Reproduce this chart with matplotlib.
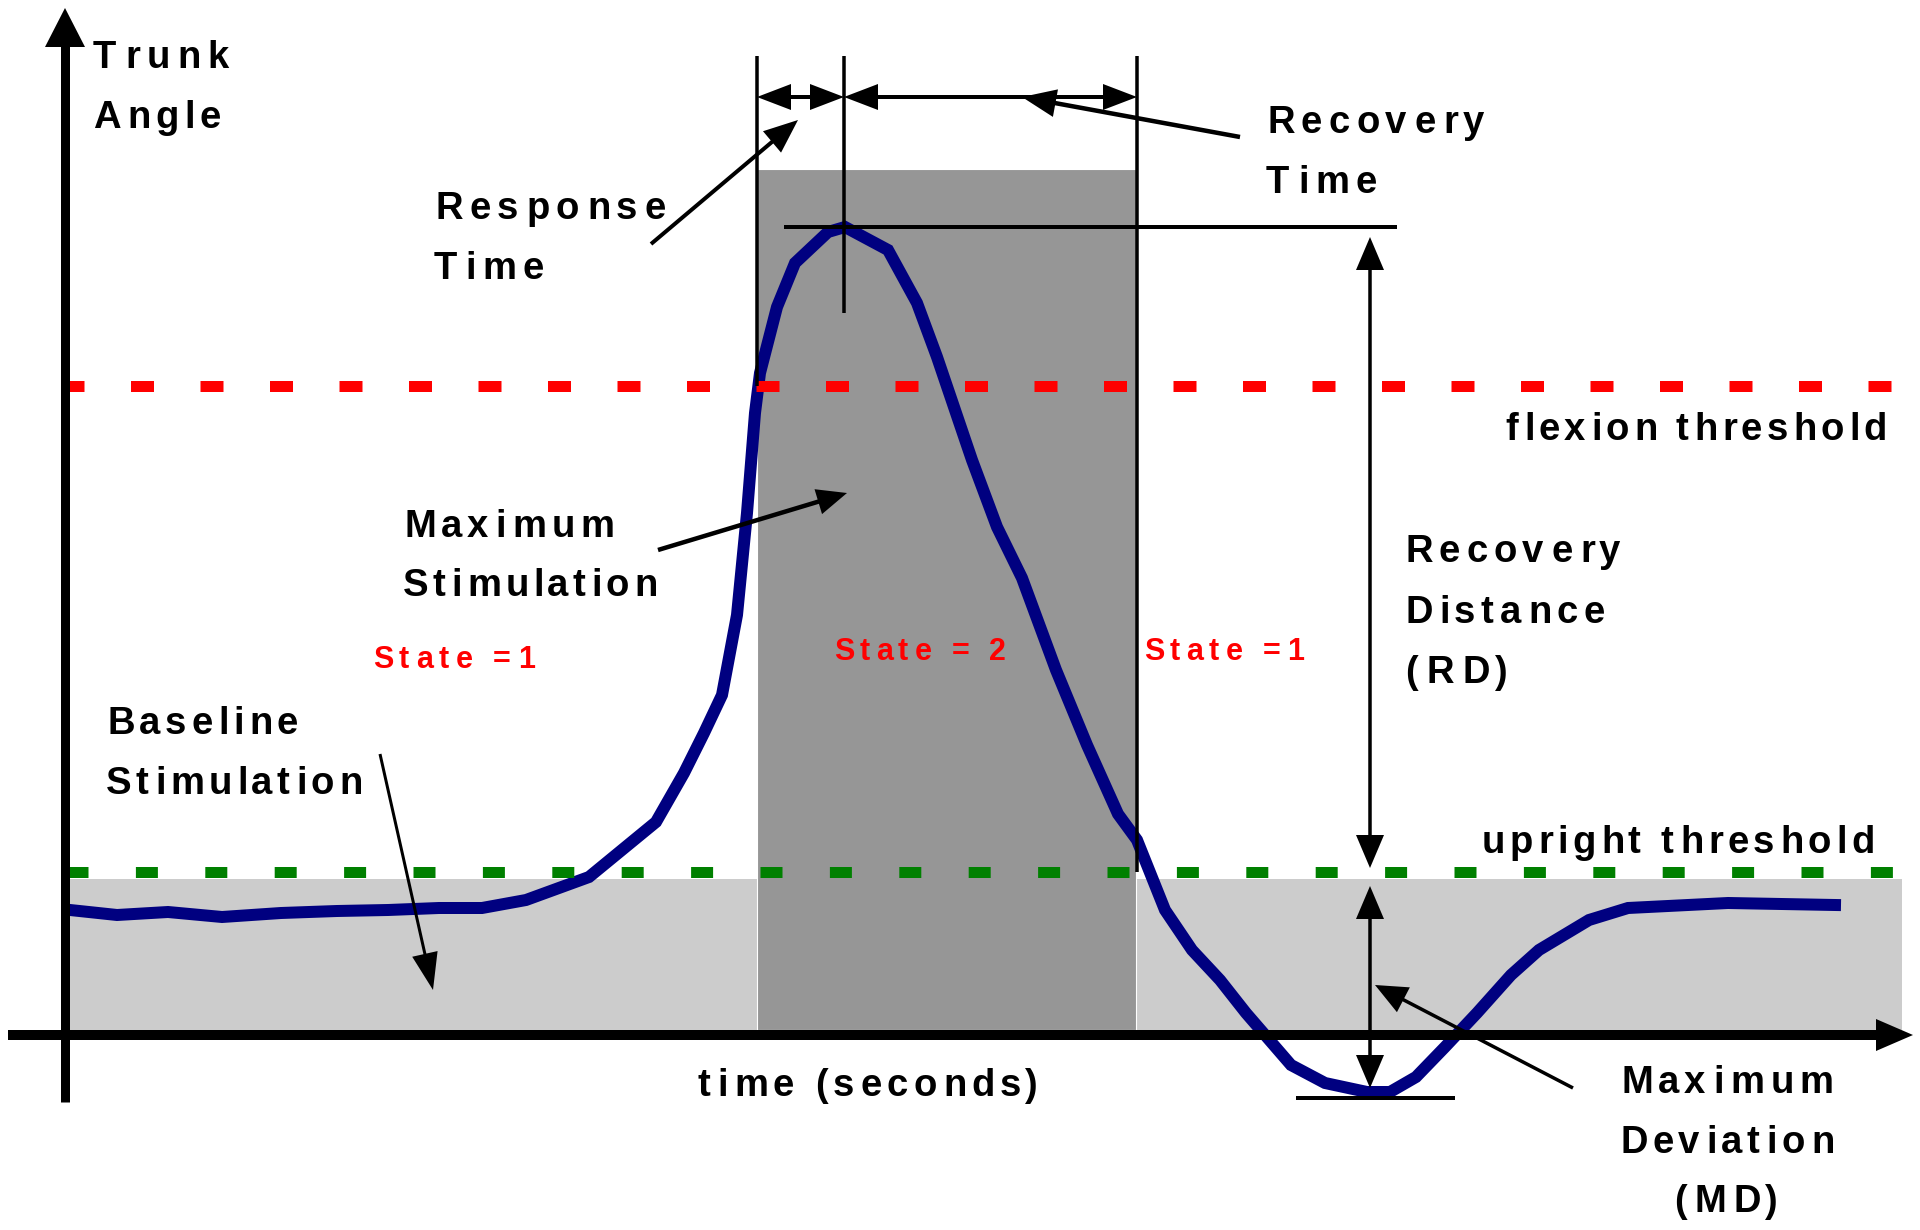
import numpy as np
import matplotlib
matplotlib.use("Agg")
import matplotlib.pyplot as plt
from matplotlib.patches import Rectangle, Polygon
from matplotlib import font_manager as fm, transforms
from matplotlib.ft2font import FT2Font

# ---------------- data (time in arbitrary seconds, trunk angle in arbitrary units) ----------------
time_s = [0.05, 0.52, 1.03, 1.57, 2.16, 2.72, 3.23, 3.74, 4.17, 4.61, 5.24, 5.91, 6.19,
          6.39, 6.57, 6.72, 6.82, 6.90, 6.95, 7.12, 7.30, 7.63, 7.80, 8.23, 8.52, 8.72,
          9.07, 9.32, 9.57, 9.91, 10.22, 10.53, 10.72, 11.00, 11.27, 11.55, 11.81, 12.26,
          12.60, 13.02, 13.25, 13.51, 13.80, 14.12, 14.46, 14.74, 15.24, 15.63, 16.63, 17.70]
trunk_angle = [1.25, 1.20, 1.23, 1.18, 1.22, 1.24, 1.25, 1.27, 1.27, 1.35, 1.58, 2.13, 2.62,
               3.02, 3.40, 4.20, 5.22, 6.22, 6.62, 7.28, 7.72, 8.03, 8.08, 7.85, 7.32, 6.78,
               5.75, 5.08, 4.57, 3.65, 2.90, 2.21, 1.95, 1.25, 0.85, 0.55, 0.22, -0.30,
               -0.48, -0.57, -0.57, -0.42, -0.12, 0.22, 0.60, 0.85, 1.15, 1.27, 1.32, 1.30]

FLEXION_THRESHOLD = 6.49
UPRIGHT_THRESHOLD = 1.63
BASELINE_STIM_LEVEL = 1.56
MAX_STIM_LEVEL = 8.66
STIM_START = 6.92
STIM_END = 10.71

trunk_label = ["Trunk", "Angle"]
response_label = ["Response", "Time"]
recovery_time_label = ["Recovery", "Time"]
max_stim_label = ["Maximum", "Stimulation"]
base_stim_label = ["Baseline", "Stimulation"]
rd_label = ["Recovery", "Distance", "(RD)"]
md_label = ["Maximum", "Deviation", "(MD)"]
state_labels = ["State =1", "State = 2", "State =1"]
xlabel = "time (seconds)"
flex_label = "flexion threshold"
upright_label = "upright threshold"

# ---------------- figure ----------------
plt.rcParams["lines.scale_dashes"] = False
fig = plt.figure(figsize=(19.2, 12.3), dpi=100)
ax = fig.add_axes([0, 0, 1, 1])
ax.set_xlim(-0.65, 18.55)
ax.set_ylim(-1.95, 10.35)
ax.axis("off")
PX = 0.01          # data units per pixel
PT = 0.72          # points per pixel

t = np.array(time_s)
a = np.array(trunk_angle)
peak_i = int(np.argmax(a))
peak_t, peak_a = t[peak_i], a[peak_i]
trough_i = int(np.argmin(a))
trough_t, trough_a = t[trough_i], a[trough_i]

# background regions
ax.add_patch(Rectangle((0.02, 0.05), 18.35, BASELINE_STIM_LEVEL - 0.05,
                       fc="#cccccc", ec="none", zorder=1))
ax.add_patch(Rectangle((STIM_START, 0.05), STIM_END - STIM_START, MAX_STIM_LEVEL - 0.05,
                       fc="#969696", ec="white", lw=0.8, zorder=2))

# curve
ax.plot(t, a, color="#000080", lw=12 * PT, solid_joinstyle="miter", zorder=4)

# thresholds (dashes in points, unscaled)
ax.plot([-0.04, 18.26], [FLEXION_THRESHOLD] * 2, color="#ff0000", lw=11 * PT,
        dashes=(23 * PT, 46.5 * PT), dash_capstyle="butt", zorder=5)
ax.plot([0.01, 18.30], [UPRIGHT_THRESHOLD + 0.005] * 2, color="#008000", lw=11 * PT,
        dashes=(22 * PT, 47.4 * PT), dash_capstyle="butt", zorder=5)


def head(tip, frm, hl, hw, z):
    tip = np.asarray(tip, float)
    d = tip - np.asarray(frm, float)
    d /= np.hypot(*d)
    n = np.array([-d[1], d[0]])
    base = tip - d * hl * PX
    ax.add_patch(Polygon([tip, base + n * hw * PX, base - n * hw * PX], closed=True,
                         fc="black", ec="none", zorder=z))
    return base + d * 1.5 * PX


def arrow(p0, p1, lw=4, hl=34, hw=14, both=False, z=7):
    end = head(p1, p0, hl, hw, z)
    start = head(p0, p1, hl, hw, z) if both else np.asarray(p0, float)
    ax.plot([start[0], end[0]], [start[1], end[1]], color="black", lw=lw * PT,
            solid_capstyle="butt", zorder=z)


def vline(x, y0, y1, lw=3.5):
    ax.plot([x, x], [y0, y1], color="black", lw=lw * PT, solid_capstyle="butt", zorder=6)


def hline(y, x0, x1, lw=4):
    ax.plot([x0, x1], [y, y], color="black", lw=lw * PT, solid_capstyle="butt", zorder=6)


# axes
arrow((0, -0.67), (0, 10.27), lw=9, hl=39, hw=20, z=8)
arrow((-0.57, 0), (18.48, 0), lw=10, hl=37, hw=16, z=8)

# timing markers
TOP = 9.79
vline(STIM_START, FLEXION_THRESHOLD, TOP)
vline(peak_t - 0.01, peak_a - 0.86, TOP)
vline(STIM_END + 0.01, UPRIGHT_THRESHOLD, TOP)
hline(peak_a, 7.19, 13.32)
hline(trough_a - 0.06, 12.31, 13.90)
ARR_Y = 9.38
arrow((STIM_START, ARR_Y), (peak_t - 0.01, ARR_Y), lw=4, hl=34, hw=13, both=True)
arrow((peak_t - 0.01, ARR_Y), (STIM_END + 0.01, ARR_Y), lw=4, hl=34, hw=13, both=True)

# distance markers
RD_X = 13.05
arrow((RD_X, peak_a - 0.10), (RD_X, UPRIGHT_THRESHOLD + 0.04), lw=3.5, hl=33, hw=14, both=True)
arrow((RD_X, UPRIGHT_THRESHOLD - 0.14), (RD_X, trough_a + 0.04), lw=3.5, hl=33, hw=14, both=True)

# pointers
arrow((5.86, 7.91), (7.33, 9.15), lw=4, hl=34, hw=14)
arrow((11.75, 8.98), (9.57, 9.38), lw=4.5, hl=34, hw=14)
arrow((5.93, 4.85), (7.82, 5.42), lw=4.5, hl=30, hw=13)
arrow((3.15, 2.81), (3.68, 0.45), lw=3, hl=37, hw=13)
arrow((15.08, -0.53), (13.10, 0.50), lw=3.5, hl=32, hw=14)

# ---------------- letter-spaced text ----------------
FONT_PATH = fm.findfont(fm.FontProperties(family="Liberation Sans", weight="bold"))
ft = FT2Font(FONT_PATH)


def glyph_metrics(ch, size):
    ft.set_size(size, 72)
    g = ft.load_char(ord(ch))
    return g.linearHoriAdvance / 65536.0, g.horiBearingX / 64.0


def spaced(x, y, s, width_px, size=27.5, color="black", ha="left"):
    mets = [glyph_metrics(c, size) for c in s]
    adv_sum = sum(m[0] for m in mets)
    track = (width_px * PT - adv_sum) / max(len(s) - 1, 1)
    total = adv_sum + track * (len(s) - 1)
    off = {"left": 0.0, "center": -total / 2, "right": -total}[ha]
    for c, (adv, bear) in zip(s, mets):
        if c != " ":
            tr = transforms.offset_copy(ax.transData, fig=fig, x=off + bear, y=0, units="points")
            ax.text(x, y, c, transform=tr, fontsize=size, family="Liberation Sans",
                    weight="bold", color=color, ha="left", va="baseline", zorder=10)
        off += adv + track


def block(x, ys, lines, widths, ha="left", **kw):
    for yy, s, w in zip(ys, lines, widths):
        spaced(x, yy, s, w, ha=ha, **kw)


block(0.27, [9.67, 9.07], trunk_label, [134, 127])
block(3.68, [8.16, 7.56], response_label, [231, 109])
block(12.00, [9.02, 8.42], recovery_time_label, [219, 110])
block(3.37, [4.98, 4.39], max_stim_label, [210, 253])
block(0.40, [3.01, 2.41], base_stim_label, [191, 255])
block(13.38, [4.73, 4.12, 3.52], rd_label, [217, 200, 105])
block(16.60, [-0.58, -1.18, -1.77], md_label, [212, 214, 105], ha="center")
spaced(6.32, -0.61, xlabel, 341)
spaced(18.20, 5.95, flex_label, 380, ha="right")
spaced(18.08, 1.82, upright_label, 394, ha="right")

for (sx, sy), s, w in zip([(3.07, 3.67), (7.68, 3.75), (10.78, 3.75)], state_labels,
                          [161, 172, 159]):
    spaced(sx, sy, s, w, size=22, color="#ff0000")

fig.savefig("out.png", dpi=100, facecolor="white")
